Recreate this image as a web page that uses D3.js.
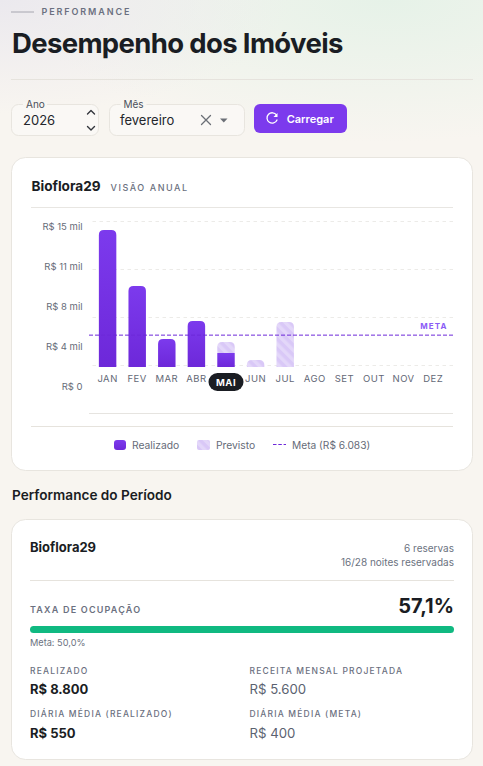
<!DOCTYPE html>
<html><head><meta charset="utf-8">
<script src="https://cdn.jsdelivr.net/npm/d3@7"></script>
<style>
html,body{margin:0;padding:0;background:#f8f5f0;overflow:hidden}
svg{display:block}
text{font-family:Inter,"Noto Sans",sans-serif}
</style></head><body><svg id="c" width="483" height="766"></svg>
<script>
const months=["JAN","FEV","MAR","ABR","MAI","JUN","JUL","AGO","SET","OUT","NOV","DEZ"];
const realizado=[14900,8800,3040,5000,1520,0,0,0,0,0,0,0];
const previsto=[0,0,0,0,1200,760,4890,0,0,0,0,0];
const highlightMonth="MAI";
const meta=6083;
const yTicks=[0,3750,7500,11250,15000];
const yTickLabels=["R$ 0","R$ 4 mil","R$ 8 mil","R$ 11 mil","R$ 15 mil"];
const occupancy=57.1, occupancyGoal=50;
const stats=[["REALIZADO","R$ 8.800",true],["RECEITA MENSAL PROJETADA","R$ 5.600",false],["DIÁRIA MÉDIA (REALIZADO)","R$ 550",true],["DIÁRIA MÉDIA (META)","R$ 400",false]];
const legendItems=["Realizado","Previsto","Meta (R$ 6.083)"];

const svg=d3.select("#c");
const defs=svg.append("defs");
function lin(id,a,b){const g=defs.append("linearGradient").attr("id",id).attr("x1",0).attr("y1",0).attr("x2",0).attr("y2",1);
 g.append("stop").attr("offset",0).attr("stop-color",a);g.append("stop").attr("offset",1).attr("stop-color",b);}
lin("bar","#7c3aed","#6d28d9");
const r1=defs.append("radialGradient").attr("id","g1").attr("cx",.8).attr("cy",0).attr("r",.75);
r1.append("stop").attr("offset",0).attr("stop-color","#e6f2e8");r1.append("stop").attr("offset",1).attr("stop-color","#e6f2e8").attr("stop-opacity",0);
const r2=defs.append("radialGradient").attr("id","g2").attr("cx",0).attr("cy",0).attr("r",.6);
r2.append("stop").attr("offset",0).attr("stop-color","#ebe9ee");r2.append("stop").attr("offset",1).attr("stop-color","#ebe9ee").attr("stop-opacity",0);
const p=defs.append("pattern").attr("id","hatch").attr("width",7).attr("height",7).attr("patternUnits","userSpaceOnUse").attr("patternTransform","rotate(-45)");
p.append("rect").attr("width",7).attr("height",7).attr("fill","#d9c8f7");
p.append("rect").attr("width",3.5).attr("height",7).attr("fill","#e3d7f9");

svg.append("rect").attr("width",483).attr("height",766).attr("fill","#f8f5f0");
svg.append("rect").attr("width",483).attr("height",190).attr("fill","url(#g1)");
svg.append("rect").attr("width",483).attr("height",190).attr("fill","url(#g2)");

function T(x,y,s,o={}){const t=svg.append("text").attr("x",x).attr("y",y).text(s)
 .attr("font-size",o.size||12).attr("font-weight",o.w||400).attr("fill",o.c||"#1a1d23")
 .attr("text-anchor",o.a||"start");
 if(o.ls!==undefined)t.attr("letter-spacing",o.ls);return t;}
function L(x1,x2,y,c){svg.append("line").attr("x1",x1).attr("x2",x2).attr("y1",y).attr("y2",y).attr("stroke",c||"#e6e3dd");}

// Header
L(11,34,12,"#a6a6b0");
T(41.5,15,"PERFORMANCE",{size:9,w:600,c:"#6b7080",ls:1.9});
T(12,53,"Desempenho dos Imóveis",{size:27.5,w:700,ls:-0.65});
L(11,473,79.5);

// Controls
function field(x,w,label,lx,lw){
 svg.append("rect").attr("x",x).attr("y",104.5).attr("width",w).attr("height",31).attr("rx",7).attr("fill","#faf8f5").attr("stroke","#e8e5df");
 svg.append("rect").attr("x",lx-3).attr("y",102).attr("width",lw+6).attr("height",5).attr("fill","#f8f6f2");
 T(lx,107.5,label,{size:10,c:"#4a4f5a"});
}
field(11.5,87,"Ano",26,18);
field(109.5,135,"Mês",123.5,20);
T(23,125,"2026",{size:13,c:"#23262c"});
T(120,125,"fevereiro",{size:13,c:"#23262c"});
const icon=(d,sw,c)=>svg.append("path").attr("d",d).attr("fill","none").attr("stroke",c).attr("stroke-width",sw).attr("stroke-linecap","round").attr("stroke-linejoin","round");
icon("M87.5 114 L91 110.5 L94.5 114",1.4,"#33363c");
icon("M87.5 126.5 L91 130 L94.5 126.5",1.4,"#33363c");
icon("M201.5 115.5 L210.5 124.5 M210.5 115.5 L201.5 124.5",1.3,"#6b6f76");
svg.append("path").attr("d","M220 118.5 H227.5 L223.75 122.5 Z").attr("fill","#6b6f76");
svg.append("rect").attr("x",254).attr("y",104).attr("width",93).attr("height",29).attr("rx",6).attr("fill","#7c3aed");
icon("M276.5 115 A5.2 5.2 0 1 0 277 120",1.3,"#fff");
svg.append("path").attr("d","M277.5 113 V117 H273.5 Z").attr("fill","#fff");
T(286.7,122.5,"Carregar",{size:11,w:600,c:"#fff"});

// Card 1
function card(y,h){svg.append("rect").attr("x",11.5).attr("y",y).attr("width",461).attr("height",h).attr("rx",14).attr("fill","#fff").attr("stroke","#e8e5df");}
card(157.5,313);
T(31.5,191,"Bioflora29",{size:13.6,w:700});
T(110.5,190.5,"VISÃO ANUAL",{size:9,w:500,c:"#6b7080",ls:1.55});
L(31,453,207.5,"#e8e6e2");

// Scales
const axisY=d3.scaleLinear().domain([0,15000]).range([413,221]);
const labelY=d3.scalePoint().domain(yTickLabels).range([386,226]);
const barY=d3.scaleLinear().domain([0,15000]).range([367,229]);
const x=d3.scaleBand().domain(months).range([92.8,448]).paddingInner(0.41).paddingOuter(0.205);

// Grid via axis
const grid=svg.append("g").attr("transform","translate(453,0)").call(d3.axisLeft(axisY).tickValues(yTicks).tickSize(364).tickFormat(""));
grid.select(".domain").remove();
grid.selectAll(".tick line").attr("stroke",d=>d===0?"#e6e4e0":"#ecebe8").attr("stroke-dasharray",d=>d===0?null:"3.5 3.5");

// Y labels
const yl=svg.append("g").attr("transform","translate(82.5,0)").call(d3.axisLeft(labelY).tickSize(0).tickPadding(0));
yl.select(".domain").remove();
yl.selectAll("text").attr("font-size",9.5).attr("fill","#666b78").attr("font-family",null).attr("dy","0.32em");

// Bars
const barPath=(x0,w,y0,y1,r)=>{r=Math.min(r,(y1-y0));return `M${x0} ${y1}V${y0+r}Q${x0} ${y0} ${x0+r} ${y0}H${x0+w-r}Q${x0+w} ${y0} ${x0+w} ${y0+r}V${y1}Z`;};
const rows=months.map((m,i)=>({m,r:realizado[i],p:previsto[i]}));
svg.append("g").selectAll("path").data(rows.filter(d=>d.p>0)).join("path")
 .attr("d",d=>barPath(x(d.m),x.bandwidth(),barY(d.r+d.p),barY(d.r),5)).attr("fill","url(#hatch)");
svg.append("g").selectAll("path").data(rows.filter(d=>d.r>0)).join("path")
 .attr("d",d=>d.p>0?`M${x(d.m)} ${barY(0)}V${barY(d.r)}h${x.bandwidth()}V${barY(0)}Z`:barPath(x(d.m),x.bandwidth(),barY(d.r),barY(0),5))
 .attr("fill","url(#bar)");

// Meta
svg.append("line").attr("x1",89).attr("x2",453).attr("y1",axisY(meta)).attr("y2",axisY(meta)).attr("stroke","#6d28d9").attr("stroke-width",1).attr("stroke-dasharray","4 2");
T(447.5,329,"META",{size:8,w:700,c:"#8b5cf6",ls:1.1,a:"end"});

// Month axis
const xa=svg.append("g").attr("transform","translate(0,382)").call(d3.axisBottom(x).tickSize(0).tickPadding(0));
xa.select(".domain").remove();
const hx=x(highlightMonth)+x.bandwidth()/2;
xa.selectAll("text").attr("font-size",9.5).attr("fill","#636876").attr("font-family",null).attr("letter-spacing",0.5).attr("y",0).attr("dy",0)
 .filter(d=>d===highlightMonth).remove();
svg.append("rect").attr("x",hx-17.5).attr("y",373).attr("width",35).attr("height",18).attr("rx",9).attr("fill","#1a1d23");
T(hx,385.5,highlightMonth,{size:9.5,w:700,c:"#fff",a:"middle",ls:0.5});

// Legend
L(31,453,426.5,"#e6e3dd");
svg.append("rect").attr("x",114).attr("y",440).attr("width",12).attr("height",10).attr("rx",3).attr("fill","url(#bar)");
T(132,449,legendItems[0],{size:10.3,c:"#666b78"});
svg.append("rect").attr("x",197).attr("y",440).attr("width",13).attr("height",10).attr("rx",2).attr("fill","url(#hatch)");
T(216,449,legendItems[1],{size:10.3,c:"#666b78"});
svg.append("line").attr("x1",273).attr("x2",286).attr("y1",444.5).attr("y2",444.5).attr("stroke","#6d28d9").attr("stroke-dasharray","3.5 1.8");
T(292,449,legendItems[2],{size:10.2,c:"#666b78"});

// Section 2
T(12,500,"Performance do Período",{size:13.6,w:600});
card(519.5,240);
T(30,552,"Bioflora29",{size:13,w:700});
T(454,552,"6 reservas",{size:10,c:"#6b7280",a:"end"});
T(454,566,"16/28 noites reservadas",{size:10,c:"#6b7280",a:"end"});
L(30,454,580.5);
T(30,613,"TAXA DE OCUPAÇÃO",{size:9,w:600,c:"#6b7080",ls:1.2});
T(454,613,"57,1%",{size:20,w:700,a:"end"});
const occ=d3.scaleLinear().domain([0,occupancyGoal]).range([0,424]).clamp(true);
svg.append("rect").attr("x",30).attr("y",626).attr("width",occ(occupancy)).attr("height",7).attr("rx",3.5).attr("fill","#10b981");
T(30,646,"Meta: 50,0%",{size:9.2,c:"#6b7280"});
stats.forEach((s,i)=>{const cx=i%2?249.5:30, ly=i<2?674:717, vy=i<2?694:738;
 T(cx,ly,s[0],{size:8.5,w:500,c:"#6b7080",ls:1.18});
 T(cx,vy,s[1],s[2]?{size:13,w:700}:{size:13.2,c:"#5b6270"});
});
</script></body></html>
